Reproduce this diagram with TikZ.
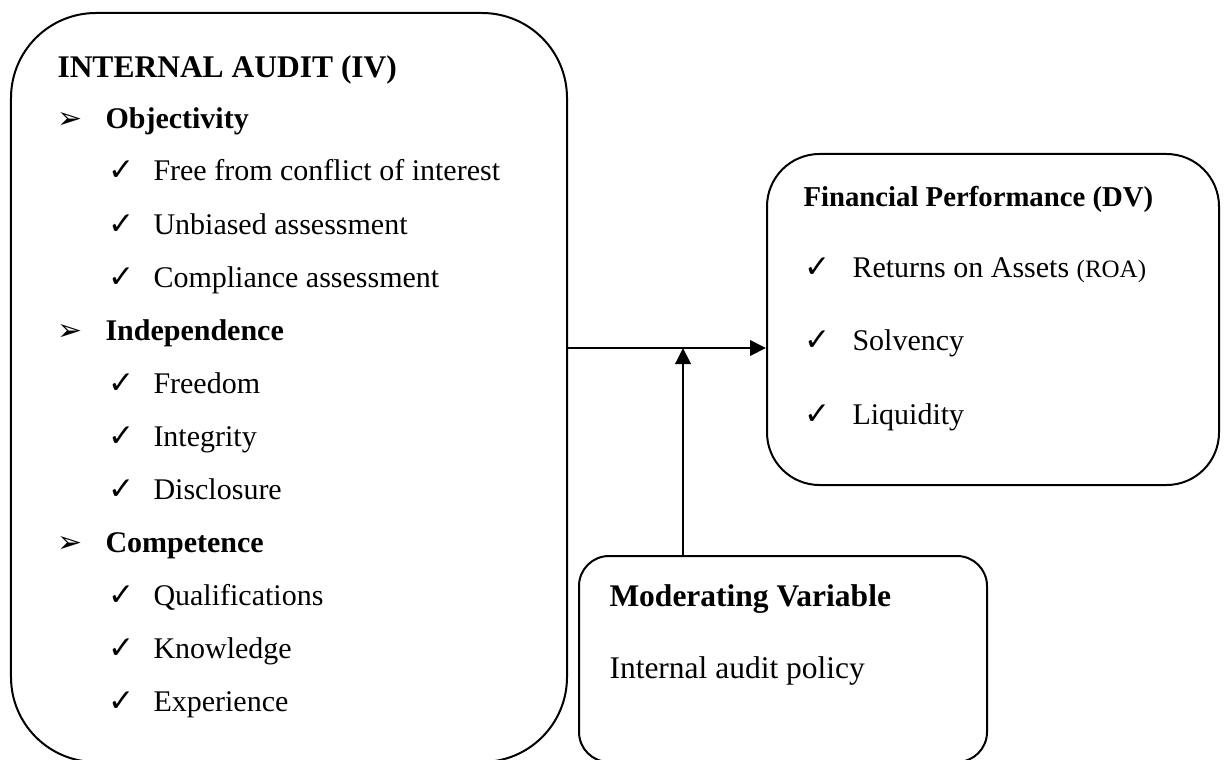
\documentclass[tikz,border=0pt]{standalone}
\usepackage{fontspec}
\setmainfont{Liberation Serif}
\newfontfamily\symfont{DejaVu Sans}
\usetikzlibrary{arrows.meta,positioning,calc}

\begin{document}
\begin{tikzpicture}
[x=0.4pt,y=-0.4pt,
box/.style={rectangle,draw=black,line width=0.8pt,inner sep=0pt},
item/.style={anchor=base west,inner sep=0pt,font=\fontsize{12}{14}\selectfont},
head/.style={anchor=base west,inner sep=0pt,font=\bfseries\fontsize{12.6}{15}\selectfont},
tick/.style={anchor=base west,inner sep=0pt,font=\symfont\fontsize{12.5}{14}\selectfont},
point/.style={anchor=base west,inner sep=0pt,font=\symfont\fontsize{12}{14}\selectfont},
post/.style={-{Triangle[length=6.4pt,width=6.2pt]},line width=0.8pt}]
\useasboundingbox (0,0) rectangle (1225,759);

% the three boxes
\node[box,rounded corners=34pt,minimum width=222.4pt,minimum height=299.6pt] (audit) at (289,387.5) {};
\node[box,rounded corners=21pt,minimum width=180.8pt,minimum height=132.4pt] (perf) at (993,319.5) {};
\node[box,rounded corners=12pt,minimum width=163.2pt,minimum height=82.4pt] (moderator) at (783,659) {};

% independent variable
\node[head] (auditTitle) at (57,78) {INTERNAL AUDIT (IV)};
\node[point] at (57,128) {➢};
\node[item,font=\bfseries\fontsize{12}{14}\selectfont] (objectivity) at (105,128) {Objectivity};
\node[tick] at (108,181) {✓};
\node[item] (conflict) at (153,181) {Free from conflict of interest};
\node[tick] at (108,234) {✓};
\node[item] (unbiased) at (153,234) {Unbiased assessment};
\node[tick] at (108,287) {✓};
\node[item] (compliance) at (153,287) {Compliance assessment};
\node[point] at (57,340) {➢};
\node[item,font=\bfseries\fontsize{12}{14}\selectfont] (independence) at (105,340) {Independence};
\node[tick] at (108,393) {✓};
\node[item] (freedom) at (153,393) {Freedom};
\node[tick] at (108,446) {✓};
\node[item] (integrity) at (153,446) {Integrity};
\node[tick] at (108,499) {✓};
\node[item] (disclosure) at (153,499) {Disclosure};
\node[point] at (57,552) {➢};
\node[item,font=\bfseries\fontsize{12}{14}\selectfont] (competence) at (105,552) {Competence};
\node[tick] at (108,605) {✓};
\node[item] (qualifications) at (153,605) {Qualifications};
\node[tick] at (108,658) {✓};
\node[item] (knowledge) at (153,658) {Knowledge};
\node[tick] at (108,711) {✓};
\node[item] (experience) at (153,711) {Experience};

% dependent variable
\node[head,font=\bfseries\fontsize{11.5}{14}\selectfont] (perfTitle) at (803,207) {Financial Performance (DV)};
\node[tick] at (804,277) {✓};
\node[item] (roa) at (852,277) {Returns on Assets {\fontsize{10}{12}\selectfont(ROA)}};
\node[tick] at (804,350) {✓};
\node[item] (solvency) at (852,350) {Solvency};
\node[tick] at (804,424) {✓};
\node[item] (liquidity) at (852,424) {Liquidity};

% moderating variable
\node[head] (modTitle) at (609,606) {Moderating Variable};
\node[item,font=\fontsize{12.6}{15}\selectfont] (policy) at (609,678) {Internal audit policy};

% links
\coordinate (join) at (683,348);
\draw[post] (audit.east |- join) -- (perf.west |- join);
\draw[post] (moderator.north -| join) -- (join);
\end{tikzpicture}
\end{document}
